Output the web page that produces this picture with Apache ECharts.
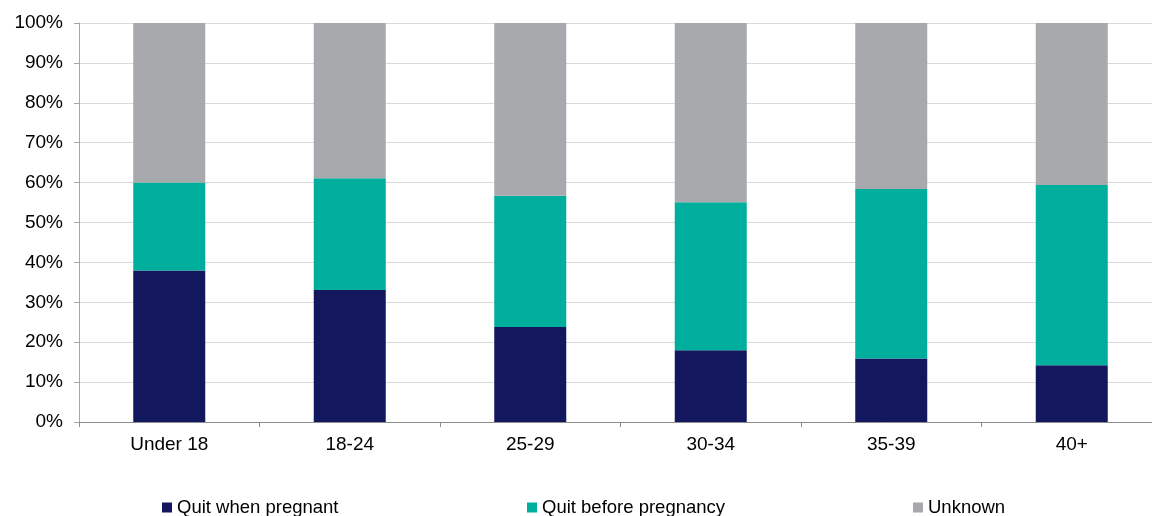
<!DOCTYPE html>
<html>
<head>
<meta charset="utf-8">
<script src="https://cdn.jsdelivr.net/npm/echarts@6/dist/echarts.min.js"></script>
<style>
  html, body { margin: 0; padding: 0; background: #fff; }
  #main { width: 1152px; height: 516px; }
</style>
</head>
<body>
<div id="main"></div>
<script>
// age groups
const categories = ['Under 18', '18-24', '25-29', '30-34', '35-39', '40+'];
// share of women (%) by smoking outcome
const quitWhenPregnant = [38.0, 33.1, 23.8, 18.0, 15.9, 14.2];
const quitBeforePregnancy = [22.0, 28.0, 32.9, 37.1, 42.5, 45.2];
const unknown = [40.0, 38.9, 43.3, 44.9, 41.6, 40.6];
const seriesNames = ['Quit when pregnant', 'Quit before pregnancy', 'Unknown'];
const colors = ['#12175e', '#00ae9d', '#a7a9ac'];

const font = 'Liberation Sans, Arial, sans-serif';
const chart = echarts.init(document.getElementById('main'));

const mkSeries = (name, data, i) => ({
    name: name,
    type: 'bar',
    stack: 'total',
    barWidth: 72,
    data: data,
    itemStyle: { color: colors[i] },
    emphasis: { disabled: true }
});

const mkLegend = (name, left) => ({
    data: [name],
    left: left,
    top: 498,
    padding: 0,
    icon: 'rect',
    itemWidth: 10,
    itemHeight: 10,
    itemGap: 0,
    textStyle: { fontFamily: font, fontSize: 18.5, color: '#000' }
});

chart.setOption({
    animation: false,
    color: colors,
    // plot area runs a little past the right edge, as in the original
    grid: { left: 79, top: 23, width: 1083, bottom: 94, outerBoundsMode: 'none' },
    legend: [
        mkLegend(seriesNames[0], 162),
        mkLegend(seriesNames[1], 527),
        mkLegend(seriesNames[2], 913)
    ],
    xAxis: {
        type: 'category',
        data: categories,
        axisLine: { lineStyle: { color: '#8c8c8c', width: 1 } },
        axisTick: { show: true, length: 5, lineStyle: { color: '#8c8c8c' } },
        axisLabel: { fontFamily: font, fontSize: 19, color: '#000', margin: 13 }
    },
    yAxis: {
        type: 'value',
        min: 0,
        max: 100,
        interval: 10,
        axisLine: { show: true, lineStyle: { color: '#a6a6a6' } },
        axisTick: { show: true, length: 5, lineStyle: { color: '#a6a6a6' } },
        splitLine: { lineStyle: { color: '#d9d9d9', width: 1 } },
        axisLabel: {
            formatter: '{value}%',
            fontFamily: font, fontSize: 19, color: '#000', margin: 16
        }
    },
    series: [
        mkSeries(seriesNames[0], quitWhenPregnant, 0),
        mkSeries(seriesNames[1], quitBeforePregnancy, 1),
        mkSeries(seriesNames[2], unknown, 2)
    ]
});
</script>
</body>
</html>
